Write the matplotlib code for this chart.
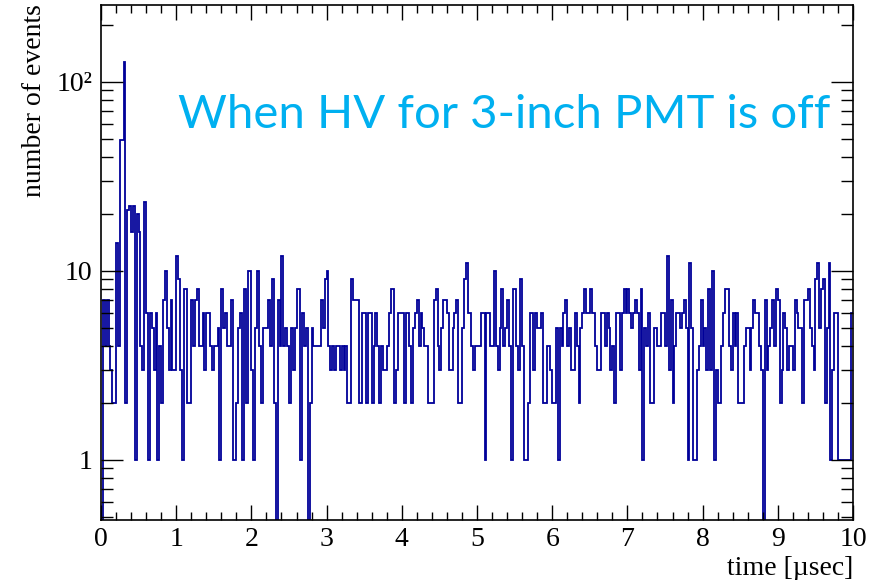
import numpy as np
import matplotlib
matplotlib.use("Agg")
import matplotlib.pyplot as plt
from matplotlib.ticker import FixedLocator, NullFormatter, FixedFormatter

# ---- data (400 bins, 0..10 usec) ----
counts_0_65 = [0, 7, 4, 7, 4, 3, 2, 2, 14, 4, 49, 49, 127, 2, 21, 22, 16, 22, 1, 20,
               16, 4, 3, 23, 6, 1, 6, 5, 3, 6, 1, 4, 2, 7, 10, 5, 3, 7, 3, 3,
               12, 9, 3, 1, 8, 8, 2, 2, 7, 4, 7, 8, 4, 4, 6, 3, 6, 6, 4, 3,
               4, 4, 5, 1, 8, 5]
counts_66_98 = [6, 4, 4, 7, 1, 1, 2, 5, 6, 1, 8, 2, 10, 10, 3, 1, 5, 10, 4, 2,
                5, 5, 5, 7, 4, 9, 2, 0, 7, 4, 12, 4, 5]
counts_99_132 = [4, 2, 5, 3, 5, 8, 8, 1, 6, 4, 5, 0, 2, 5, 4, 4, 4, 4, 7, 5,
                 9, 10, 4, 3, 4, 3, 4, 4, 3, 4, 3, 4, 2, 2]
counts_133_165 = [9, 7, 7, 7, 2, 2, 6, 6, 2, 6, 6, 2, 4, 6, 4, 2, 4, 3, 3, 4,
                  6, 8, 8, 2, 3, 6, 6, 6, 2, 6, 6, 4, 2]
counts_166_199 = [5, 6, 7, 4, 6, 5, 4, 4, 2, 2, 2, 7, 8, 4, 3, 5, 7, 7, 6, 3,
                  3, 5, 6, 7, 2, 2, 5, 9, 11, 6, 6, 4, 3, 4]
counts_200_233 = [4, 4, 6, 6, 1, 6, 6, 4, 4, 10, 4, 3, 5, 8, 4, 5, 7, 4, 1, 8,
                  8, 4, 3, 9, 4, 1, 1, 2, 6, 6, 3, 6, 5, 5]
counts_234_267 = [6, 2, 2, 4, 4, 3, 2, 2, 5, 1, 5, 4, 6, 7, 4, 5, 3, 3, 6, 4,
                  2, 5, 6, 8, 6, 6, 8, 6, 6, 4, 3, 3, 6, 6]
counts_268_300 = [4, 6, 5, 3, 4, 2, 6, 6, 3, 6, 8, 6, 8, 6, 5, 6, 7, 6, 3, 8,
                  1, 5, 4, 6, 2, 2, 5, 5, 4, 4, 6, 6, 4]
counts_301_334 = [12, 3, 7, 2, 4, 6, 6, 5, 6, 7, 5, 1, 11, 5, 1, 1, 3, 4, 7, 4,
                  5, 3, 8, 3, 10, 1, 3, 2, 2, 4, 6, 8, 8, 4]
counts_335_367 = [3, 6, 4, 6, 2, 2, 2, 4, 5, 5, 3, 5, 7, 6, 6, 4, 3, 0, 7, 3,
                  4, 5, 7, 4, 8, 7, 2, 3, 6, 5, 3, 4, 4]
counts_368_399 = [3, 7, 6, 5, 5, 2, 7, 7, 8, 5, 4, 3, 9, 11, 5, 8, 9, 2, 5, 11,
                  1, 3, 6, 6, 1, 1, 1, 1, 1, 1, 1, 6]

counts = np.array(counts_0_65 + counts_66_98 + counts_99_132 + counts_133_165 +
                  counts_166_199 + counts_200_233 + counts_234_267 + counts_268_300 +
                  counts_301_334 + counts_335_367 + counts_368_399, dtype=float)
t_min, t_max = 0.0, 10.0
edges = np.linspace(t_min, t_max, len(counts) + 1)

x_ticks = list(range(0, 11))
y_ticks = [1, 10, 100]
y_tick_labels = ["1", "10", "10\u00b2"]
annotation = "When HV for 3-inch PMT is off"

# ---- figure ----
W, H = 881, 580
fig = plt.figure(figsize=(W / 100, H / 100), dpi=100)
ax = fig.add_axes([101 / W, 1 - 520 / H, (853 - 101) / W, (520 - 5) / H])

ax.set_yscale("log", nonpositive="clip")
ax.stairs(counts, edges, baseline=None, color="#000099", linewidth=1.3)
ax.set_xlim(t_min, t_max)
ax.set_ylim(0.48, 255)

serif = "Liberation Serif"
fs = 20
ax.xaxis.set_major_locator(FixedLocator(x_ticks))
ax.xaxis.set_minor_locator(FixedLocator(np.arange(0, 10.01, 0.2)))
ax.set_xticklabels([str(v) for v in x_ticks], fontfamily=serif, fontsize=fs)
ax.yaxis.set_major_locator(FixedLocator(y_ticks))
ax.yaxis.set_major_formatter(FixedFormatter(y_tick_labels))
minors = [m * 10 ** e for e in (-1, 0, 1, 2) for m in range(2, 10)]
ax.yaxis.set_minor_locator(FixedLocator(minors))
ax.yaxis.set_minor_formatter(NullFormatter())
for lab in ax.get_yticklabels():
    lab.set_fontfamily(serif)
    lab.set_fontsize(fs)

ax.tick_params(axis="both", which="both", direction="in", top=True, right=True,
               width=1.0, color="black")
ax.tick_params(axis="x", which="major", length=11, pad=5)
ax.tick_params(axis="x", which="minor", length=6)
ax.tick_params(axis="y", which="major", length=16, pad=6)
ax.tick_params(axis="y", which="minor", length=8.5)
for s in ax.spines.values():
    s.set_linewidth(1.2)
    s.set_color("black")

fig.text(853 / W, 1 - 575 / H, "time [\u00b5sec]", fontfamily=serif, fontsize=fs,
         ha="right", va="baseline")
fig.text(35 / W, 1 - 4 / H, "number of events", fontfamily=serif, fontsize=fs,
         rotation=90, ha="center", va="top")

fig.text(178 / W, 1 - 128 / H, annotation, fontfamily="Lato", fontsize=34,
         color="#00B0F0", ha="left", va="baseline")

fig.savefig("out.png", dpi=100)
